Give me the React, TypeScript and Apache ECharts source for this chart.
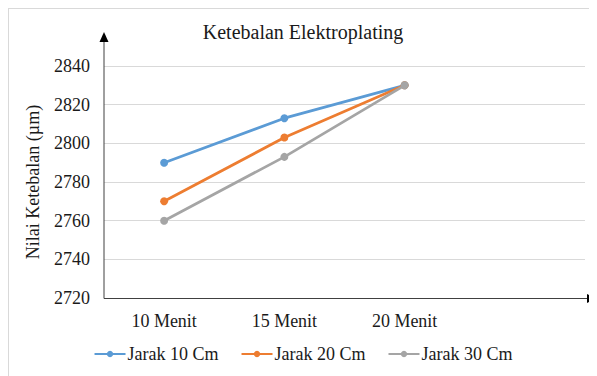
import React, { useEffect, useRef } from "react";
import * as echarts from "echarts";

const categories = ["10 Menit", "15 Menit", "20 Menit", ""];
const seriesNames = ["Jarak 10 Cm", "Jarak 20 Cm", "Jarak 30 Cm"];
const jarak10 = [2790, 2813, 2830];
const jarak20 = [2770, 2803, 2830];
const jarak30 = [2760, 2793, 2830];
const colors = ["#5B9BD5", "#ED7D31", "#A5A5A5"];
const yMin = 2720;
const yMax = 2840;
const yStep = 20;
const yTitle = "Nilai Ketebalan (µm)";

const FONT = "Liberation Serif";

export default function App() {
  const ref = useRef<HTMLDivElement>(null);
  useEffect(() => {
    if (!ref.current) return;
    const chart = echarts.init(ref.current, undefined, { renderer: "svg" });
    const values = [jarak10, jarak20, jarak30];
    const axisColor = "#404040";
    const txt = "#1a1a1a";
    const labelStyle = { fontFamily: FONT, fontSize: 18, color: txt, fontWeight: "normal" };
    chart.setOption({
      animation: false,
      backgroundColor: "#fff",
      textStyle: { fontFamily: FONT },
      title: {
        text: "Ketebalan Elektroplating",
        left: "center",
        top: 13,
        padding: 0,
        textStyle: { fontFamily: FONT, fontSize: 20, fontWeight: "normal", color: txt },
      },
      legend: {
        bottom: 8,
        left: "center",
        itemWidth: 31,
        itemHeight: 8,
        itemGap: 22,
        textStyle: { ...labelStyle, padding: [0, 0, 0, -3] },
        data: seriesNames,
      },
      grid: { left: 95, right: 12, top: 57, bottom: 78 },
      xAxis: {
        type: "category",
        data: categories,
        boundaryGap: true,
        axisLine: { show: false },
        axisTick: { show: false },
        axisLabel: { ...labelStyle, margin: 14 },
      },
      yAxis: {
        type: "value",
        min: yMin,
        max: yMax,
        interval: yStep,
        name: yTitle,
        nameLocation: "middle",
        nameGap: 62,
        nameTextStyle: { ...labelStyle },
        axisLine: { show: false },
        axisTick: { show: false },
        axisLabel: {
          ...labelStyle,
          margin: 14,
          formatter: (v: number) => String(v),
        },
        splitLine: { lineStyle: { color: "#d9d9d9", width: 1 } },
      },
      series: seriesNames.map((name, i) => ({
        name,
        type: "line",
        data: values[i],
        symbol: "circle",
        symbolSize: 8,
        color: colors[i],
        lineStyle: { width: 2.75, color: colors[i] },
        itemStyle: { color: colors[i] },
        z: 3 + i,
      })),
      graphic: [
        {
          type: "line",
          shape: { x1: 95, y1: 289.5, x2: 95, y2: 32 },
          style: { stroke: axisColor, lineWidth: 1 },
          z: 10,
        },
        {
          type: "polygon",
          shape: { points: [[95, 23], [90.5, 33], [99.5, 33]] },
          style: { fill: "#000" },
          z: 10,
        },
        {
          type: "line",
          shape: { x1: 95, y1: 289.5, x2: 579, y2: 289.5 },
          style: { stroke: axisColor, lineWidth: 1 },
          z: 10,
        },
        {
          type: "polygon",
          shape: { points: [[588, 289.5], [578, 285], [578, 294]] },
          style: { fill: "#000" },
          z: 10,
        },
      ],
    });
    return () => chart.dispose();
  }, []);
  return (
    <div
      style={{
        width: 588,
        height: 367,
        borderLeft: "1px solid #d9d9d9",
        borderTop: "1px solid #d9d9d9",
        overflow: "hidden",
      }}
    >
      <style>{`.chart-host svg text { font-family: "Liberation Serif", serif !important; }`}</style>
      <div className="chart-host" ref={ref} style={{ width: 588, height: 367 }} />
    </div>
  );
}
